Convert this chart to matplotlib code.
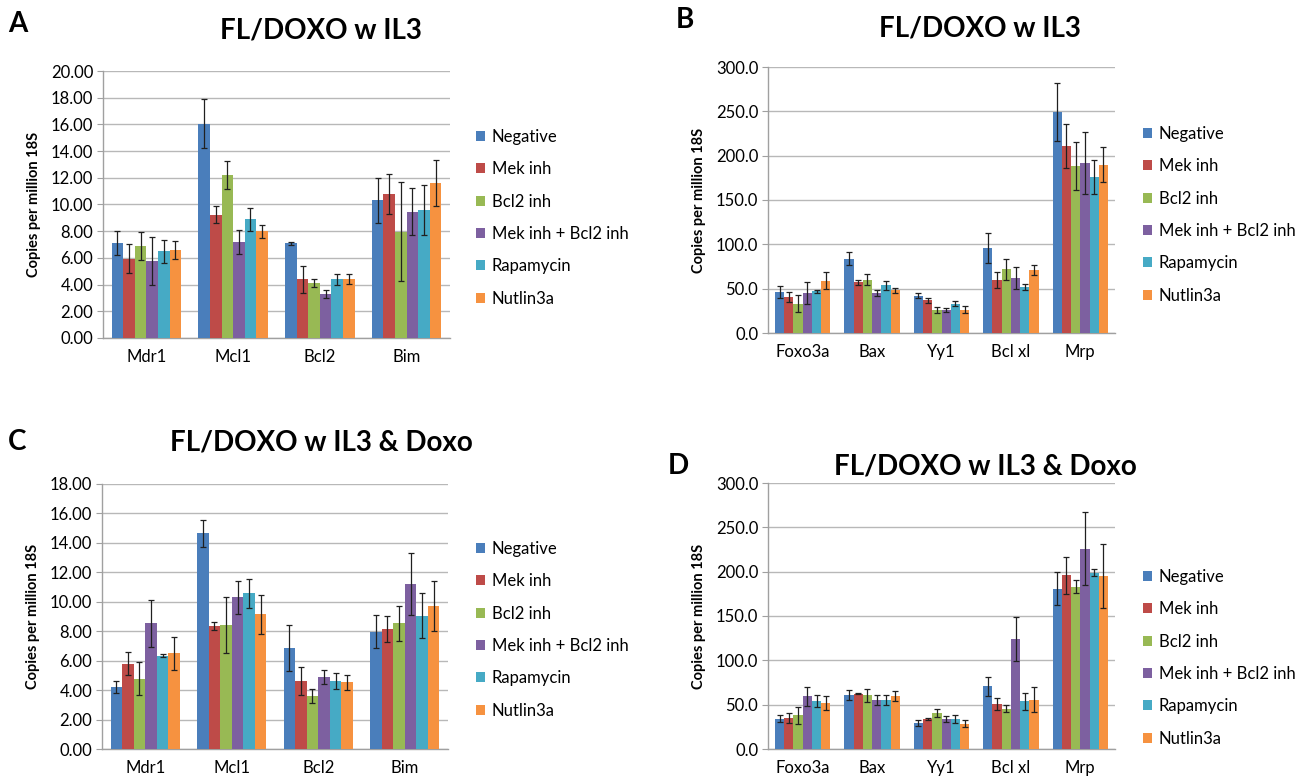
import matplotlib
matplotlib.use("Agg")
import matplotlib.pyplot as plt
import numpy as np
from matplotlib.patches import Patch
from matplotlib.ticker import FormatStrFormatter, MultipleLocator

plt.rcParams['font.family'] = ['Lato', 'DejaVu Sans']

W, H = 1296, 783

treatments = ['Negative', 'Mek inh', 'Bcl2 inh', 'Mek inh + Bcl2 inh', 'Rapamycin', 'Nutlin3a']
colors = ['#4a7ebb', '#be4b48', '#98b954', '#7d60a0', '#46aac5', '#f69240']

genes_left = ['Mdr1', 'Mcl1', 'Bcl2', 'Bim']
genes_right = ['Foxo3a', 'Bax', 'Yy1', 'Bcl xl', 'Mrp']

# rows = treatments, columns = genes
a_mean = [[7.1, 16.05, 7.1, 10.3],
          [5.95, 9.25, 4.4, 10.8],
          [6.9, 12.2, 4.15, 7.95],
          [5.75, 7.2, 3.3, 9.45],
          [6.5, 8.9, 4.4, 9.6],
          [6.6, 8.0, 4.45, 11.6]]
a_err = [[0.9, 1.85, 0.1, 1.7],
         [1.1, 0.65, 1.0, 1.5],
         [1.05, 1.05, 0.3, 3.7],
         [1.8, 0.9, 0.3, 1.75],
         [0.85, 0.85, 0.4, 1.85],
         [0.7, 0.5, 0.38, 1.7]]

b_mean = [[46, 84, 42, 96, 249],
          [41, 57, 37, 60, 211],
          [33, 60, 26, 72, 188],
          [45, 45, 26, 62, 192],
          [47, 54, 33, 52, 176],
          [59, 48, 26, 71, 190]]
b_err = [[7, 7, 3, 17, 33],
         [5.5, 3, 3, 9, 25],
         [9.5, 6, 3, 12, 27],
         [12, 3, 2, 12, 35],
         [2, 5, 3, 3, 19],
         [9.5, 2.5, 4, 6, 20]]

c_mean = [[4.22, 14.65, 6.87, 7.96],
          [5.8, 8.37, 4.63, 8.16],
          [4.78, 8.44, 3.6, 8.53],
          [8.53, 10.3, 4.9, 11.18],
          [6.33, 10.57, 4.63, 9.05],
          [6.49, 9.14, 4.54, 9.7]]
c_err = [[0.4, 0.9, 1.54, 1.13],
         [0.77, 0.27, 0.97, 0.88],
         [1.1, 1.9, 0.48, 1.2],
         [1.6, 1.1, 0.5, 2.1],
         [0.1, 0.97, 0.55, 1.52],
         [1.1, 1.3, 0.52, 1.7]]

d_mean = [[34.3, 61, 29.4, 70.8, 181],
          [35.4, 62.5, 33.9, 51.2, 196],
          [38, 60.6, 40.7, 45.6, 183],
          [59.5, 55.7, 34.3, 123.9, 226],
          [54.6, 55.7, 33.9, 53.8, 199],
          [52, 59.5, 28.6, 55.7, 195]]
d_err = [[3.8, 5.3, 3.8, 10.5, 19],
         [5.6, 0.8, 0.8, 6.8, 21],
         [9.4, 7.5, 4.5, 3.8, 7.5],
         [10.5, 5.6, 3.4, 24.5, 41],
         [6.8, 5.6, 4.1, 9.4, 3.8],
         [7.9, 5.6, 3.8, 14.3, 36.5]]

title_top = 'FL/DOXO w IL3'
title_bottom = 'FL/DOXO w IL3 & Doxo'


def px_axes(fig, x0, y0, x1, y1):
    return fig.add_axes([x0 / W, 1 - y1 / H, (x1 - x0) / W, (y1 - y0) / H])


def panel(ax, genes, means, errs, ymax, step, fmt):
    n = len(treatments)
    x = np.arange(len(genes))
    bw = 0.8 / n
    for i in range(n):
        ax.bar(x - 0.4 + bw * (i + 0.5), means[i], bw, color=colors[i],
               yerr=errs[i], error_kw=dict(ecolor='#202020', elinewidth=0.9,
                                           capsize=2.3, capthick=0.9),
               zorder=3)
    ax.set_xlim(-0.5, len(genes) - 0.5)
    ax.set_ylim(0, ymax)
    ax.yaxis.set_major_locator(MultipleLocator(step))
    ax.yaxis.set_major_formatter(FormatStrFormatter(fmt))
    ax.set_xticks(x)
    ax.set_xticklabels(genes, fontsize=12)
    ax.tick_params(axis='x', length=0, pad=8)
    ax.tick_params(axis='y', labelsize=12, length=4, color='#a0a0a0', pad=3)
    ax.grid(axis='y', color='#b8b8b8', linewidth=1.0, zorder=0)
    for s in ['top', 'right']:
        ax.spines[s].set_visible(False)
    for s in ['left', 'bottom']:
        ax.spines[s].set_color('#a0a0a0')
        ax.spines[s].set_linewidth(1.0)
    ax.set_ylabel('Copies per million 18S', fontsize=10.5, fontweight='bold', labelpad=7)


def legend(fig, x, y):
    handles = [Patch(facecolor=c, edgecolor='none') for c in colors]
    fig.legend(handles, treatments, loc='upper left',
               bbox_to_anchor=(x / W, 1 - y / H), frameon=False,
               fontsize=12, handlelength=0.55, handleheight=0.55,
               handletextpad=0.4, labelspacing=0.98, borderpad=0,
               borderaxespad=0)


fig = plt.figure(figsize=(W / 100, H / 100), dpi=100)

ax_a = px_axes(fig, 103, 71, 450, 338)
panel(ax_a, genes_left, a_mean, a_err, 20, 2, '%.2f')
ax_b = px_axes(fig, 768, 67, 1115, 333)
panel(ax_b, genes_right, b_mean, b_err, 300, 50, '%.1f')
ax_c = px_axes(fig, 102, 484, 448, 749)
panel(ax_c, genes_left, c_mean, c_err, 18, 2, '%.2f')
ax_d = px_axes(fig, 768, 483, 1115, 749)
panel(ax_d, genes_right, d_mean, d_err, 300, 50, '%.1f')

legend(fig, 476, 129)
legend(fig, 1143, 126)
legend(fig, 476, 541)
legend(fig, 1143, 569)

for (tx, ty, t) in [(321, 30, title_top), (980, 28, title_top),
                    (321, 443, title_bottom), (985, 467, title_bottom)]:
    fig.text(tx / W, 1 - ty / H, t, ha='center', va='center',
             fontsize=20, fontweight='bold')

for (lx, ly, l) in [(8, 24, 'A'), (676, 20, 'B'), (8, 442, 'C'), (668, 466, 'D')]:
    fig.text(lx / W, 1 - ly / H, l, ha='left', va='center',
             fontsize=20, fontweight='bold')

fig.savefig('out.png', dpi=100)
